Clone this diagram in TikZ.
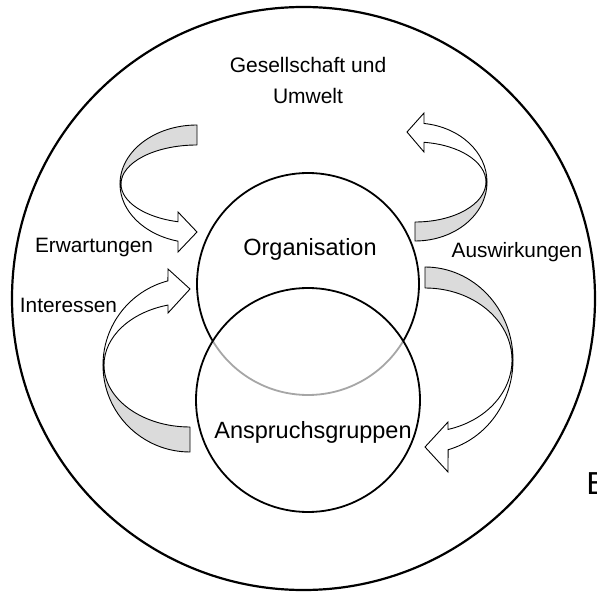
\documentclass[tikz,border=0pt]{standalone}
\usepackage{fontspec}
\setmainfont{Liberation Sans}
\newfontfamily\markfont{DejaVu Sans}
\begin{document}
\begin{tikzpicture}[x=1pt,y=-1pt,
  ring/.style={draw, circle, inner sep=0pt, line width=1.8pt},
  backface/.style={draw, line width=0.9pt, fill=black!14, line join=round},
  frontface/.style={draw, line width=0.9pt, fill=white, line join=miter},
  bigtext/.style={font=\fontsize{23.5}{28}\selectfont, inner sep=0pt, anchor=base},
  smalltext/.style={font=\fontsize{20.8}{25}\selectfont, inner sep=0pt, anchor=base}]
\useasboundingbox (0,0) rectangle (597,593);
\clip (0,0) rectangle (597,593);

% environment
\node[ring, line width=2.2pt, minimum size=583pt] (env) at (303.5,298.5) {};

% organisation and stakeholders
\node[ring, minimum size=222pt] (org) at (308,284) {};
\node[ring, minimum size=224pt, fill=white, fill opacity=0.65] (stake) at (308,400) {};

% labels
\node[bigtext] (lorg) at (310,256) {Organisation};
\node[bigtext] (lstake) at (313,438) {Anspruchsgruppen};
\node[bigtext, align=center, font=\fontsize{21}{31}\selectfont, anchor=base] (lenv) at (308,104) {Gesellschaft und\\Umwelt};
\node[smalltext] (lexp) at (94,253) {Erwartungen};
\node[smalltext] (lint) at (68.5,313) {Interessen};
\node[smalltext] (limp) at (517,258) {Auswirkungen};
\node[font=\markfont\fontsize{30}{36}\selectfont, inner sep=0pt, anchor=base west] (lb) at (586,494) {B};

% upper left ribbon arrow
\path[backface] ([shift={(197,184)}]270:77 and 59) arc[start angle=270,end angle=180,x radius=77,y radius=59]
  -- ([shift={(197,184)}]180:76 and 39) arc[start angle=180,end angle=270,x radius=76,y radius=39] -- cycle;
\path[frontface] ([shift={(197,184)}]180:77 and 59) arc[start angle=180,end angle=104.3,x radius=77,y radius=59]
  -- (178,252) -- (197,232) -- (178,212)
  -- ([shift={(197,184)}]104.5:76 and 39) arc[start angle=104.5,end angle=180,x radius=76,y radius=39] -- cycle;

% upper right ribbon arrow
\path[backface] ([shift={(415,182)}]0:72 and 59) arc[start angle=0,end angle=90,x radius=72,y radius=59]
  -- ([shift={(415,182)}]90:71 and 40) arc[start angle=90,end angle=0,x radius=71,y radius=40] -- cycle;
\path[frontface] ([shift={(415,182)}]360:72 and 59) arc[start angle=360,end angle=277.2,x radius=72,y radius=59]
  -- (424,113) -- (407,132) -- (424,152)
  -- ([shift={(415,182)}]277.3:71 and 40) arc[start angle=277.3,end angle=360,x radius=71,y radius=40] -- cycle;

% lower left ribbon arrow
\path[backface] ([shift={(190,365)}]180:87 and 87) arc[start angle=180,end angle=90,x radius=87,y radius=87]
  -- ([shift={(190,365)}]90:86 and 62) arc[start angle=90,end angle=180,x radius=86,y radius=62] -- cycle;
\path[frontface] ([shift={(190,365)}]180:87 and 87) arc[start angle=180,end angle=255.3,x radius=87,y radius=87]
  -- (168,269) -- (190,289) -- (168,313)
  -- ([shift={(190,365)}]255.2:86 and 62) arc[start angle=255.2,end angle=180,x radius=86,y radius=62] -- cycle;

% lower right ribbon arrow
\path[backface] ([shift={(425,360)}]270:88 and 93) arc[start angle=270,end angle=360,x radius=88,y radius=93]
  -- ([shift={(425,360)}]0:87 and 72) arc[start angle=0,end angle=-90,x radius=87,y radius=72] -- cycle;
\path[frontface] ([shift={(425,360)}]0:88 and 93) arc[start angle=0,end angle=74.8,x radius=88,y radius=93]
  -- (448,472) -- (425,447) -- (448,422)
  -- ([shift={(425,360)}]74.7:87 and 72) arc[start angle=74.7,end angle=0,x radius=87,y radius=72] -- cycle;
\end{tikzpicture}
\end{document}
